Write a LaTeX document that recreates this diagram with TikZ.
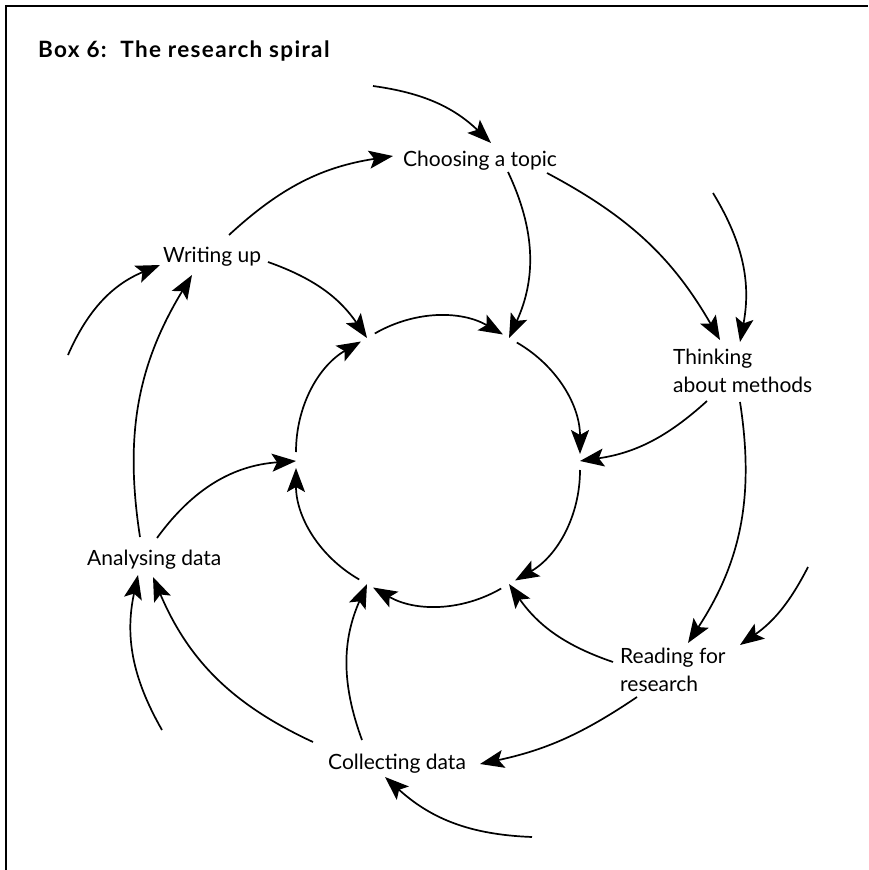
\documentclass[tikz,border=0pt]{standalone}
\usepackage{fontspec}
\setmainfont{Lato}
\usetikzlibrary{arrows.meta}
\begin{document}
\begin{tikzpicture}[x=1pt,y=-1pt,
  arr/.style={line width=1.7pt, -{Stealth[length=24pt,width=18pt,inset=5pt]}},
  lbl/.style={inner sep=0pt, font=\fontsize{21}{28}\selectfont, align=left},
  ttl/.style={inner sep=0pt, font=\fontsize{22.5}{26}\selectfont\bfseries\addfontfeatures{LetterSpace=6}},
  inner/.style={arr, bend left=30, shorten <=9pt, shorten >=7pt}]
\useasboundingbox (0,0) rectangle (868,870);
\draw[line width=2.5pt] (6,870) -- (6,6) -- (868,6);

\node[ttl, anchor=base west] (title) at (38,57) {Box 6:\ \ The research spiral};

\node[lbl, anchor=base west] (choose) at (403,166) {Choosing a topic};
\node[lbl, anchor=base west] (write) at (163,262) {Writing up};
\node[lbl, anchor=north west] (think) at (673,349) {Thinking\\about methods};
\node[lbl, anchor=north west] (read) at (620,648) {Reading for\\research};
\node[lbl, anchor=base west] (collect) at (328,769) {Collecting data};
\node[lbl, anchor=base west] (analyse) at (87,565) {Analysing data};

% inner circle junctions
\coordinate (p0) at (580,461);
\coordinate (p60) at (509,338);
\coordinate (p120) at (367,338);
\coordinate (p180) at (296,461);
\coordinate (p240) at (367,584);
\coordinate (p300) at (509,584);

% connector ends near the labels
\coordinate (in1) at (373,86);
\coordinate (chooseN) at (491,143);
\coordinate (chooseW) at (393,156);
\coordinate (chooseS) at (508,172);
\coordinate (chooseE) at (547,173);
\coordinate (in2) at (713,193);
\coordinate (thinkN1) at (720,340);
\coordinate (thinkN2) at (740,342);
\coordinate (thinkS1) at (707,401);
\coordinate (thinkS2) at (740,402);
\coordinate (in3) at (808,567);
\coordinate (readN1) at (688,643);
\coordinate (readN2) at (740,645);
\coordinate (readW) at (613,662);
\coordinate (readS) at (637,697);
\coordinate (in4) at (532,837);
\coordinate (collectE) at (480,764);
\coordinate (collectS) at (385,777);
\coordinate (collectN1) at (362,740);
\coordinate (collectN2) at (313,742);
\coordinate (in5) at (162,730);
\coordinate (analyseS1) at (153,577);
\coordinate (analyseS2) at (138,575);
\coordinate (analyseE) at (157,538);
\coordinate (analyseN) at (140,537);
\coordinate (writeS) at (192,275);
\coordinate (writeE) at (268,262);
\coordinate (writeN) at (229,235);
\coordinate (in6) at (68,355);
\coordinate (writeW) at (160,265);

% inner circle
\draw[inner] (p120) to (p60);
\draw[inner] (p60) to (p0);
\draw[inner] (p0) to (p300);
\draw[inner] (p300) to (p240);
\draw[inner] (p240) to (p180);
\draw[inner] (p180) to (p120);

% outer spiral
\draw[arr] (in1) to[bend left=18] (chooseN);
\draw[arr] (writeN) to[bend left=17] (chooseW);
\draw[arr] (chooseS) to[bend left=25] (p60);
\draw[arr] (chooseE) to[bend left=16] (thinkN1);
\draw[arr] (in2) to[bend left=21] (thinkN2);
\draw[arr] (thinkS1) to[bend left=17] (p0);
\draw[arr] (thinkS2) to[bend left=21] (readN1);
\draw[arr] (in3) to[bend left=14] (readN2);
\draw[arr] (readW) to[bend left=18] (p300);
\draw[arr] (readS) to[bend left=11] (collectE);
\draw[arr] (in4) to[bend left=20] (collectS);
\draw[arr] (collectN1) to[bend left=22] (p240);
\draw[arr] (collectN2) to[bend left=21] (analyseS1);
\draw[arr] (in5) to[bend left=21] (analyseS2);
\draw[arr] (analyseE) to[bend left=25] (p180);
\draw[arr] (analyseN) to[bend left=20] (writeS);
\draw[arr] (writeE) to[bend left=18] (p120);
\draw[arr] (in6) to[bend left=22] (writeW);
\end{tikzpicture}
\end{document}
